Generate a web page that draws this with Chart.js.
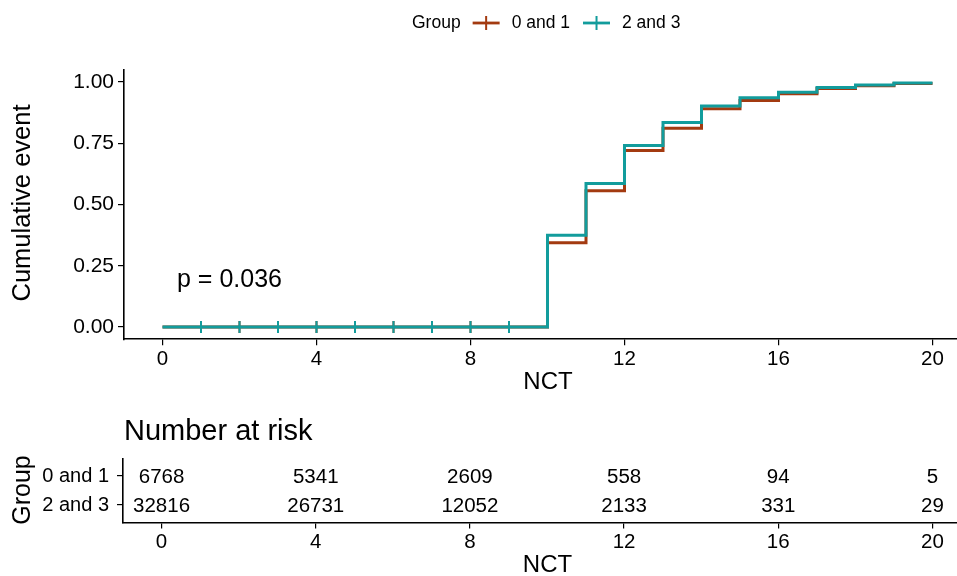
<!DOCTYPE html>
<html><head><meta charset="utf-8">
<script src="https://cdn.jsdelivr.net/npm/chart.js@4.4.1/dist/chart.umd.min.js"></script>
<style>
html,body{margin:0;padding:0;background:#fff;overflow:hidden;width:957px;height:576px;position:relative;}
#c1{position:absolute;left:0;top:0;width:971px;height:400px;}
#c2{position:absolute;left:0;top:400px;width:971px;height:176px;}
</style></head><body>
<canvas id="c1" width="971" height="400"></canvas>
<canvas id="c2" width="971" height="176"></canvas>
<script>
// ---- data ----
const groups = ['0 and 1', '2 and 3'];
const stepTimes = [0, 10, 11, 12, 13, 14, 15, 16, 17, 18, 19, 20];
const cumEvent01 = [0, 0.344, 0.556, 0.720, 0.811, 0.891, 0.925, 0.952, 0.973, 0.985, 0.994, 0.994];
const cumEvent23 = [0, 0.375, 0.586, 0.741, 0.835, 0.902, 0.936, 0.958, 0.978, 0.988, 0.996, 0.996];
const censorTimes = [1, 2, 3, 4, 5, 6, 7, 8, 9];
const xTicks = [0, 4, 8, 12, 16, 20];
const yTicks = [0, 0.25, 0.5, 0.75, 1];
const riskTimes = [0, 4, 8, 12, 16, 20];
const risk01 = [6768, 5341, 2609, 558, 94, 5];
const risk23 = [32816, 26731, 12052, 2133, 331, 29];
const pValueText = 'p = 0.036';

// ---- styles ----
const FONT = '"Liberation Sans", Arial, Helvetica, sans-serif';
const colors = ['#A33A10', '#129C9C'];
const series = [cumEvent01, cumEvent23];
const riskRows = [risk01, risk23];

function valueAt(vals, t) {
  let v = vals[0];
  for (let i = 0; i < stepTimes.length; i++) { if (stepTimes[i] <= t) v = vals[i]; }
  return v;
}

function xScaleCfg(h) {
  return {
    type: 'linear', min: -1, max: 21,
    afterBuildTicks: s => { s.ticks = xTicks.map(v => ({ value: v })); },
    grid: { display: true, drawOnChartArea: false, drawTicks: true, tickLength: 6, color: '#000', lineWidth: 1.2 },
    border: { display: true, color: '#000', width: 1.6 },
    ticks: { font: { size: 20.5, family: FONT }, color: '#000', padding: 2, maxRotation: 0, autoSkip: false },
    afterFit: s => { s.height = h; s.paddingLeft = 0; s.paddingRight = 0; }
  };
}

Chart.defaults.animation = false;
Chart.defaults.font.family = FONT;

// ---- main chart ----
const datasets1 = [];
series.forEach((vals, g) => {
  datasets1.push({
    type: 'line', label: groups[g],
    data: stepTimes.map((t, i) => ({ x: t, y: vals[i] })),
    stepped: true, borderColor: colors[g], borderWidth: 3, pointRadius: 0, fill: false,
    order: g === 0 ? 3 : 1
  });
  datasets1.push({
    type: 'scatter', label: groups[g] + ' censor',
    data: censorTimes.map(t => ({ x: t, y: valueAt(vals, t) })),
    pointStyle: 'line', pointRotation: 90, pointRadius: 6, borderColor: colors[g], borderWidth: 2,
    order: g === 0 ? 2 : 0
  });
});

const mainDecor = {
  id: 'mainDecor',
  afterDraw(chart) {
    const ctx = chart.ctx, ca = chart.chartArea;
    ctx.save();
    ctx.fillStyle = '#000';
    // y title
    ctx.font = '25.5px ' + FONT;
    ctx.textAlign = 'center'; ctx.textBaseline = 'middle';
    ctx.save(); ctx.translate(23, 203); ctx.rotate(-Math.PI / 2);
    ctx.fillText('Cumulative event', 0, 0); ctx.restore();
    // x title
    ctx.font = '24px ' + FONT;
    ctx.fillText('NCT', (ca.left + ca.right) / 2 + 0.5, 382);
    // p value
    ctx.font = '25px ' + FONT;
    ctx.textAlign = 'left';
    ctx.fillText(pValueText, 177, 280);
    // legend
    ctx.font = '17.5px ' + FONT;
    ctx.textBaseline = 'middle';
    let x = 412; const y = 23;
    ctx.fillText('Group', x, y);
    x += ctx.measureText('Group').width + 12;
    groups.forEach((g, i) => {
      ctx.strokeStyle = colors[i]; ctx.lineWidth = 2.8;
      ctx.beginPath(); ctx.moveTo(x, y); ctx.lineTo(x + 27, y); ctx.stroke();
      ctx.lineWidth = 2;
      ctx.beginPath(); ctx.moveTo(x + 13.5, y - 7); ctx.lineTo(x + 13.5, y + 7); ctx.stroke();
      x += 27 + 12;
      ctx.fillText(g, x, y);
      x += ctx.measureText(g).width + 13;
    });
    ctx.restore();
  }
};

new Chart(document.getElementById('c1'), {
  data: { datasets: datasets1 },
  options: {
    responsive: false, maintainAspectRatio: false, devicePixelRatio: 1,
    layout: { autoPadding: false, padding: { top: 69.75, left: 0, right: 0, bottom: 0 } },
    plugins: { legend: { display: false }, tooltip: { enabled: false }, title: { display: false } },
    scales: {
      x: xScaleCfg(60.75),
      y: {
        type: 'linear', min: -0.05, max: 1.05,
        afterBuildTicks: s => { s.ticks = yTicks.map(v => ({ value: v })); },
        grid: { display: true, drawOnChartArea: false, drawTicks: true, tickLength: 6, color: '#000', lineWidth: 1.2 },
        border: { display: true, color: '#000', width: 1.6 },
        ticks: { font: { size: 21, family: FONT }, color: '#000', padding: 4, callback: v => Number(v).toFixed(2) },
        afterFit: s => { s.width = 124; s.paddingTop = 0; s.paddingBottom = 0; }
      }
    }
  },
  plugins: [mainDecor]
});

// ---- risk table ----
const riskDecor = {
  id: 'riskDecor',
  afterDatasetsDraw(chart) {
    const ctx = chart.ctx, xs = chart.scales.x, ys = chart.scales.y, ca = chart.chartArea;
    ctx.save();
    ctx.fillStyle = '#000';
    ctx.font = '20.5px ' + FONT;
    ctx.textAlign = 'center'; ctx.textBaseline = 'middle';
    riskRows.forEach((row, r) => {
      row.forEach((n, i) => {
        ctx.fillText(String(n), xs.getPixelForValue(riskTimes[i]), ys.getPixelForValue(r + 1) + 1);
      });
    });
    // titles
    ctx.font = '29px ' + FONT;
    ctx.textAlign = 'left';
    ctx.fillText('Number at risk', ca.left + 1, 32);
    ctx.font = '24px ' + FONT;
    ctx.textAlign = 'center';
    ctx.fillText('NCT', (ca.left + ca.right) / 2 + 0.5, 165);
    ctx.font = '25px ' + FONT;
    ctx.save(); ctx.translate(23, 90); ctx.rotate(-Math.PI / 2);
    ctx.fillText('Group', 0, 0); ctx.restore();
    ctx.restore();
  }
};

new Chart(document.getElementById('c2'), {
  type: 'scatter',
  data: { datasets: [{ data: [], pointRadius: 0 }] },
  options: {
    responsive: false, maintainAspectRatio: false, devicePixelRatio: 1,
    layout: { autoPadding: false, padding: { top: 58.6, left: 0, right: 0, bottom: 0 } },
    plugins: { legend: { display: false }, tooltip: { enabled: false } },
    scales: {
      x: xScaleCfg(53.6),
      y: {
        type: 'linear', min: 0.4, max: 2.6, reverse: true,
        afterBuildTicks: s => { s.ticks = groups.map((g, i) => ({ value: i + 1 })); },
        grid: { display: true, drawOnChartArea: false, drawTicks: true, tickLength: 6, color: '#000', lineWidth: 1.2 },
        border: { display: true, color: '#000', width: 1.6 },
        ticks: { font: { size: 20, family: FONT }, color: '#000', padding: 8, callback: v => groups[Math.round(v) - 1] },
        afterFit: s => { s.width = 123; s.paddingTop = 0; s.paddingBottom = 0; }
      }
    }
  },
  plugins: [riskDecor]
});
</script>
</body></html>
